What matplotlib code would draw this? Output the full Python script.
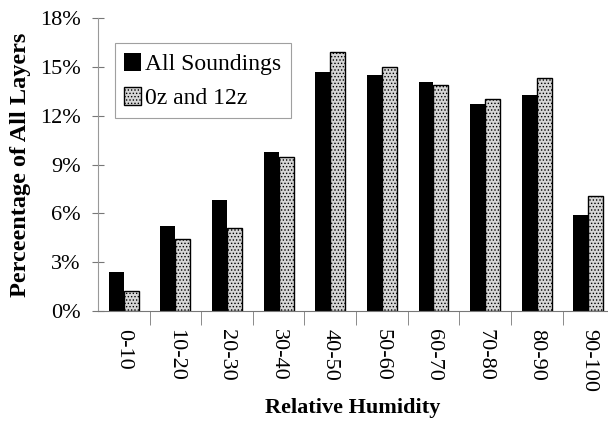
import matplotlib.pyplot as plt
import numpy as np
from matplotlib.ticker import FuncFormatter, FixedLocator

plt.rcParams['font.family'] = ['Liberation Serif', 'DejaVu Serif']
plt.rcParams['hatch.color'] = '#6a6a6a'
plt.rcParams['hatch.linewidth'] = 0.6

# data (percent of all layers)
categories = ["0-10", "10-20", "20-30", "30-40", "40-50",
              "50-60", "60-70", "70-80", "80-90", "90-100"]
all_soundings = [2.4, 5.25, 6.8, 9.8, 14.7, 14.5, 14.05, 12.7, 13.3, 5.9]
z0_12 = [1.2, 4.4, 5.1, 9.45, 15.9, 15.0, 13.9, 13.05, 14.35, 7.05]
yticks = [0, 3, 6, 9, 12, 15, 18]

fig = plt.figure(figsize=(6.08, 4.23), dpi=100)
ax = fig.add_axes([0.161, 0.265, 0.839, 0.692])

x = np.arange(len(categories))
w = 0.29
ax.bar(x - w / 2, all_soundings, w, color='black', label='All Soundings')
ax.bar(x + w / 2, z0_12, w, facecolor='#d6d6d6', edgecolor='black',
       linewidth=1.0, hatch='.....', label='0z and 12z')

ax.set_ylim(0, 18)
ax.set_xlim(-0.5, 9.38)
ax.set_yticks(yticks)
ax.yaxis.set_major_formatter(FuncFormatter(lambda v, p: f"{v:.0f}%"))
ax.tick_params(axis='y', direction='inout', length=9, color='#777777',
               labelsize=16, pad=8)

ax.set_xticks(x)
ax.set_xticklabels(categories, rotation=-90, fontsize=16)
ax.tick_params(axis='x', which='major', length=0, pad=13)
ax.xaxis.set_minor_locator(FixedLocator(x[:-1] + 0.5))
ax.tick_params(axis='x', which='minor', direction='out', length=10,
               color='#777777')

for s in ['top', 'right']:
    ax.spines[s].set_visible(False)
ax.spines['left'].set_color('#999999')
ax.spines['left'].set_linewidth(0.8)
ax.spines['bottom'].set_color('#777777')
ax.spines['bottom'].set_linewidth(0.8)

ax.set_ylabel('Perceentage of All Layers', fontsize=17.5, fontweight='bold',
              labelpad=6)
ax.set_xlabel('Relative Humidity', fontsize=16, fontweight='bold', labelpad=4)

leg = ax.legend(loc='upper left', bbox_to_anchor=(0.033, 0.915),
                fontsize=17, frameon=True, fancybox=False,
                handlelength=0.7, handleheight=0.8, handletextpad=0.2,
                borderpad=0.4, labelspacing=0.5, borderaxespad=0)
leg.get_frame().set_edgecolor('#888888')
leg.get_frame().set_linewidth(0.8)

fig.savefig('out.png', dpi=100)
